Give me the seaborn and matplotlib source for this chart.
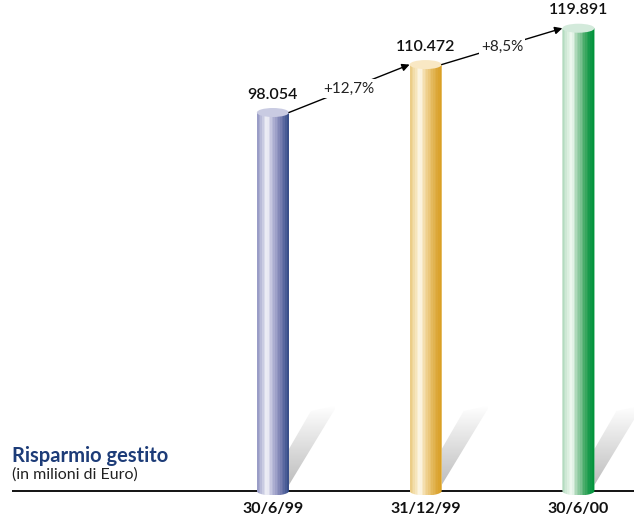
import numpy as np
import pandas as pd
import matplotlib
matplotlib.use("Agg")
import matplotlib.pyplot as plt
import seaborn as sns
from matplotlib.patches import Ellipse, PathPatch
from matplotlib.path import Path
from matplotlib.colors import LinearSegmentedColormap

# --- data -------------------------------------------------------------
dates = ["30/6/99", "31/12/99", "30/6/00"]
values = [98.054, 110.472, 119.891]
value_labels = ["98.054", "110.472", "119.891"]
growth_labels = ["+12,7%", "+8,5%"]

# cylinder shading, left edge -> right edge
body_colors = [
    ["#9a9dc7", "#c6c8e0", "#f3f3f9", "#c3c5df", "#a0a3ca", "#7c82b3", "#56669e", "#2c4482"],
    ["#ebcd88", "#f6e4b8", "#fdf8ea", "#f4ddaa", "#ecc97e", "#e3b656", "#dca636", "#d99d1c"],
    ["#b3dbbf", "#d9eede", "#f1f9f2", "#a9d6b5", "#7cc293", "#3fa962", "#14994a", "#00943a"],
]
top_colors = ["#c9cbe2", "#f9e8c4", "#d3eadb"]

# --- figure / scales ----------------------------------------------------
sns.set_style("white")
plt.rcParams["font.family"] = ["Lato", "DejaVu Sans"]

W, H = 634, 520
PX_X = 152.75          # pixels per category step
PX_Y = 3.86            # pixels per million
X0 = 272.9             # pixel position of first category
BASE = 491             # pixel row of the baseline

fig = plt.figure(figsize=(W / 100, H / 100), dpi=100)
ax = fig.add_axes([0, 0, 1, 1])

df = pd.DataFrame({"data": dates, "valore": values})
sns.barplot(data=df, x="data", y="valore", order=dates, width=0.21,
            color="white", ax=ax)
ax.set_xlim(-X0 / PX_X, (W - X0) / PX_X)
ax.set_ylim(-(H - BASE) / PX_Y, BASE / PX_Y)
ax.axis("off")

ell_h = 9 / PX_Y  # ellipse height of the cylinder ends

# baseline
ax.plot([(12 - X0) / PX_X, (W - X0) / PX_X], [0, 0], color="black",
        lw=1.3, zorder=1, solid_capstyle="butt")

shadow_cmap = LinearSegmentedColormap.from_list("sh", ["#b9b9b9", "#dcdcdc", "#ffffff"])

bars = [p for p in ax.patches]
for i, patch in enumerate(bars):
    x0 = patch.get_x()
    w = patch.get_width()
    h = patch.get_height()
    xc = x0 + w / 2
    patch.set_visible(False)

    # shadow cast to the lower right
    R = x0 + w
    pts_px = [(0, 6), (0, 42), (22, 80), (46, 85), (46, 82)]
    pts = [(R + dx / PX_X, dy / PX_Y) for dx, dy in pts_px]
    shadow = PathPatch(Path(pts + [pts[0]], closed=True), facecolor="none",
                       edgecolor="none")
    ax.add_patch(shadow)
    grad = np.linspace(0, 1, 64)[:, None] * np.ones((1, 8))
    im = ax.imshow(grad, cmap=shadow_cmap, origin="lower", aspect="auto",
                   extent=(R, R + 46 / PX_X, 0, 85 / PX_Y), zorder=2,
                   interpolation="bilinear")
    im.set_clip_path(shadow)

    # cylinder body with rounded bottom
    t = np.linspace(np.pi, 2 * np.pi, 40)
    verts = [(xc + w / 2 * np.cos(a), ell_h / 2 * np.sin(a)) for a in t]
    verts += [(x0 + w, h), (x0, h), verts[0]]
    body = PathPatch(Path(verts, closed=True), facecolor="none", edgecolor="none")
    ax.add_patch(body)
    cmap = LinearSegmentedColormap.from_list(f"c{i}", body_colors[i])
    stripes = cmap(np.linspace(0, 1, 20))[None, :, :]
    im = ax.imshow(stripes, aspect="auto", interpolation="nearest",
                   extent=(x0, x0 + w, -ell_h / 2, h), zorder=3)
    im.set_clip_path(body)

    # top cap
    ax.add_patch(Ellipse((xc, h), w, ell_h, facecolor=top_colors[i],
                         edgecolor="none", zorder=4))

    # value above the cylinder
    ax.text(xc, h + 18 / PX_Y, value_labels[i], ha="center", va="center",
            fontsize=11.5, fontweight="semibold", color="#111111", zorder=5)

    # date below the baseline
    ax.text(xc, -(509 - BASE) / PX_Y, dates[i], ha="center", va="center",
            fontsize=11.5, fontweight="bold", color="#111111")

# growth arrows between consecutive cylinders
for i, lab in enumerate(growth_labels):
    b0, b1 = bars[i], bars[i + 1]
    start = (b0.get_x() + b0.get_width(), values[i])
    end = (b1.get_x(), values[i + 1])
    ax.annotate("", xy=end, xytext=start,
                arrowprops=dict(arrowstyle="-|>", color="black", lw=1,
                                mutation_scale=11, shrinkA=0, shrinkB=0),
                zorder=5)
    mx = (start[0] + end[0]) / 2
    my = (start[1] + end[1]) / 2
    ax.text(mx, my, lab, ha="center", va="center", fontsize=11,
            fontweight="normal", color="#222222", zorder=6,
            bbox=dict(facecolor="white", edgecolor="none", pad=1.5))

# title block
fig.text(12 / W, 1 - 456 / H, "Risparmio gestito", ha="left", va="center",
         fontsize=14.5, fontweight="bold", color="#1d3c78")
fig.text(12 / W, 1 - 475 / H, "(in milioni di Euro)", ha="left", va="center",
         fontsize=11.5, fontweight="normal", color="#222222")

fig.savefig("out.png", dpi=100)
